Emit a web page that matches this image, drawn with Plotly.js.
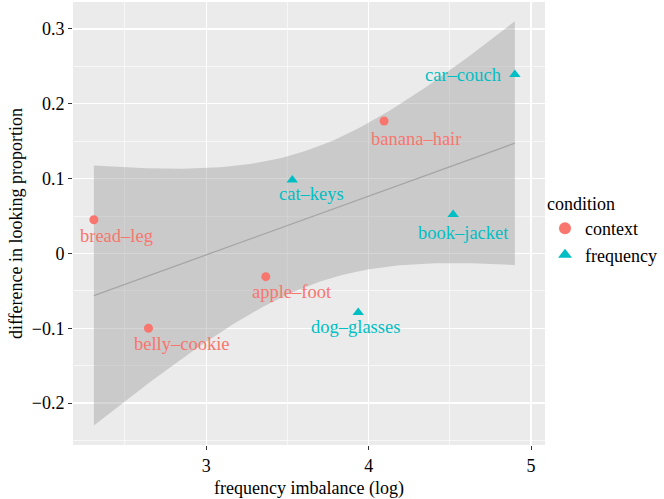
<!DOCTYPE html>
<html><head><meta charset="utf-8">
<script src="https://cdn.plot.ly/plotly-3.0.1.min.js"></script>
<style>body{margin:0;padding:0;background:#fff}#chart{width:664px;height:499px}</style>
</head><body><div id="chart"></div>
<script>
// Data
const contextNames = ["bread–leg", "belly–cookie", "apple–foot", "banana–hair"];
const contextX = [2.309, 2.645, 3.367, 4.095];
const contextY = [0.045, -0.100, -0.031, 0.177];
const freqNames = ["cat–keys", "dog–glasses", "book–jacket", "car–couch"];
const freqX = [3.53, 3.936, 4.52, 4.90];
const freqY = [0.098, -0.079, 0.052, 0.239];

// label pixel offsets (layout only)
const labelOffsets = {
  "bread–leg": [23, -16], "belly–cookie": [34, -16], "apple–foot": [26, -15], "banana–hair": [32, -18],
  "cat–keys": [19, -14], "dog–glasses": [-3, -14], "book–jacket": [10, -18], "car–couch": [-52, 0]
};

const RED = "#F8766D", TEAL = "#00BFC4";
const FONT = "'Liberation Serif', 'DejaVu Serif', serif";

// linear fit + 95% confidence band
const allX = contextX.concat(freqX), allY = contextY.concat(freqY);
const n = allX.length;
const mx = allX.reduce((a,b)=>a+b,0)/n, my = allY.reduce((a,b)=>a+b,0)/n;
let sxx=0, sxy=0;
for (let i=0;i<n;i++){ sxx+=(allX[i]-mx)**2; sxy+=(allX[i]-mx)*(allY[i]-my); }
const b1 = sxy/sxx, b0 = my - b1*mx;
let sse=0; for (let i=0;i<n;i++){ sse += (allY[i]-(b0+b1*allX[i]))**2; }
const s = Math.sqrt(sse/(n-2));
const tval = 2.446912; // t(0.975, df=6)
const xmin = Math.min(...allX), xmax = Math.max(...allX);
const gx=[], gy=[], lo=[], hi=[];
for (let k=0;k<=80;k++){
  const x = xmin + (xmax-xmin)*k/80;
  const yh = b0 + b1*x;
  const se = s*Math.sqrt(1/n + (x-mx)**2/sxx);
  gx.push(x); gy.push(yh); lo.push(yh - tval*se); hi.push(yh + tval*se);
}

const traces = [
  {x: gx, y: lo, mode: "lines", line: {width: 0, color: "rgba(0,0,0,0)"}, showlegend: false, hoverinfo: "skip"},
  {x: gx, y: hi, mode: "lines", fill: "tonexty", fillcolor: "rgba(153,153,153,0.4)", line: {width: 0, color: "rgba(0,0,0,0)"}, showlegend: false, hoverinfo: "skip"},
  {x: gx, y: gy, mode: "lines", line: {color: "#A6A6A6", width: 1.3}, showlegend: false, hoverinfo: "skip"},
  {x: contextX, y: contextY, text: contextNames, mode: "markers", name: "context",
   marker: {color: RED, size: 9, symbol: "circle"}},
  {x: freqX, y: freqY, text: freqNames, mode: "markers", name: "frequency",
   marker: {color: TEAL, size: 10, symbol: "triangle-up"}}
];

const annotations = [];
function addLabels(names, xs, ys, col){
  names.forEach((nm,i)=>{
    const o = labelOffsets[nm];
    annotations.push({x: xs[i], y: ys[i], xref: "x", yref: "y", text: nm, showarrow: false,
      xshift: o[0], yshift: o[1], font: {family: FONT, size: 18.5, color: col}});
  });
}
addLabels(contextNames, contextX, contextY, RED);
addLabels(freqNames, freqX, freqY, TEAL);

const layout = {
  width: 664, height: 499,
  margin: {l: 73, r: 116, t: 2, b: 54},
  paper_bgcolor: "#FFFFFF", plot_bgcolor: "#EBEBEB",
  font: {family: FONT, size: 18, color: "#000"},
  xaxis: {range: [2.1804, 5.0856], tickvals: [3,4,5], ticktext: ["3","4","5"], showgrid: true, gridcolor: "#FFFFFF", gridwidth: 1.2,
    minor: {tickvals: [2.5,3.5,4.5], showgrid: true, gridcolor: "#FFFFFF", gridwidth: 0.6, ticklen: 0},
    zeroline: false, ticks: "outside", ticklen: 4, tickcolor: "#333", tickwidth: 1.1, showline: false,
    tickfont: {family: FONT, size: 18, color: "#000"},
    title: {text: "frequency imbalance (log)", font: {family: FONT, size: 18, color: "#000"}, standoff: 6}},
  yaxis: {range: [-0.256, 0.336], tickvals: [-0.2,-0.1,0,0.1,0.2,0.3], ticktext: ["−0.2","−0.1","0","0.1","0.2","0.3"],
    showgrid: true, gridcolor: "#FFFFFF", gridwidth: 1.2,
    minor: {tickvals: [-0.25,-0.15,-0.05,0.05,0.15,0.25], showgrid: true, gridcolor: "#FFFFFF", gridwidth: 0.6, ticklen: 0},
    zeroline: false, ticks: "outside", ticklen: 4, tickcolor: "#333", tickwidth: 1.1, showline: false,
    tickfont: {family: FONT, size: 18, color: "#000"},
    title: {text: "difference in looking proportion", font: {family: FONT, size: 18, color: "#000"}, standoff: 4}},
  legend: {x: 1.0, xanchor: "left", y: 0.485, yanchor: "middle", bgcolor: "rgba(0,0,0,0)", traceorder: "normal",
    title: {text: "condition", font: {family: FONT, size: 18, color: "#000"}},
    font: {family: FONT, size: 18, color: "#000"}, itemsizing: "constant", itemwidth: 30, tracegroupgap: 2},
  annotations: annotations,
  showlegend: true
};

Plotly.newPlot("chart", traces, layout, {displayModeBar: false, staticPlot: true});
</script>
</body></html>
